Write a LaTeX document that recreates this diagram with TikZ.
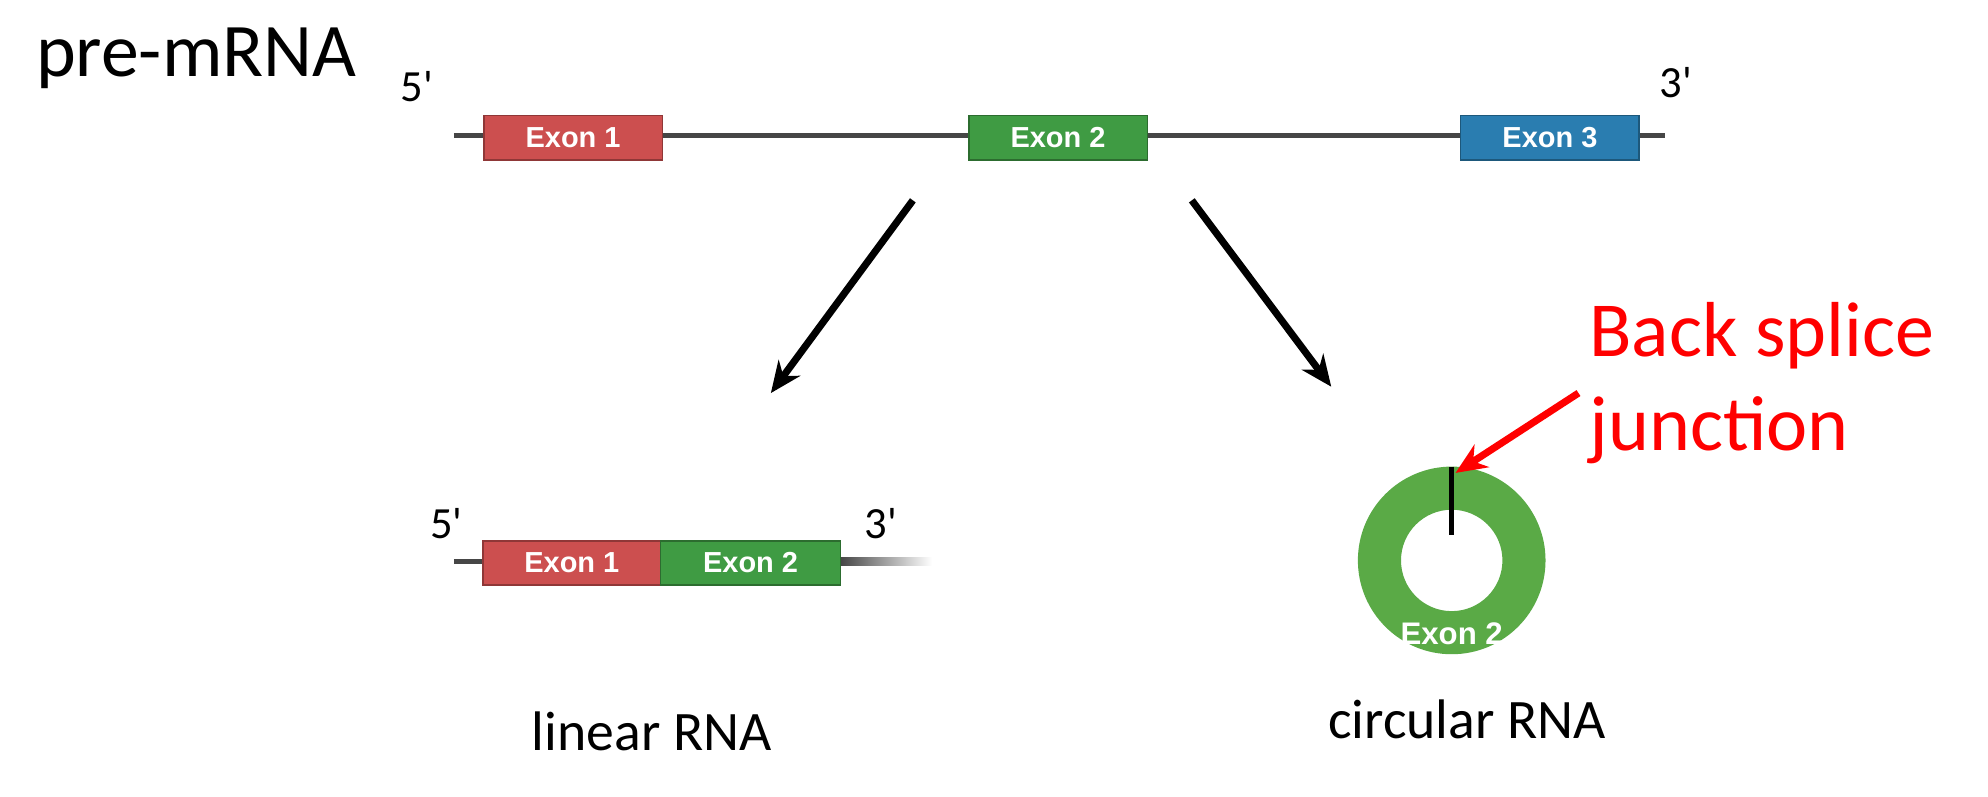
\documentclass[tikz,border=0pt]{standalone}
\usepackage{fontspec}
\setmainfont{Carlito}
\newfontfamily\exonfont{Liberation Sans}
\usepackage{xcolor}
\usepackage{tikz}
\usetikzlibrary{arrows.meta,positioning,calc}
\definecolor{exonred}{RGB}{204,79,79}
\definecolor{exongreen}{RGB}{63,155,67}
\definecolor{exonblue}{RGB}{42,125,176}
\definecolor{ringgreen}{RGB}{90,170,70}
\definecolor{strand}{RGB}{70,70,70}

\tikzset{
    exon/.style={draw=#1!70!black, fill=#1, minimum width=1.41cm, minimum height=0.35cm,
        inner sep=0pt, text=white, font=\exonfont\bfseries\fontsize{6.5}{7}\selectfont},
    prime/.style={font=\fontsize{10}{11}\selectfont},
    rna/.style={strand, line width=1.2pt},
    split/.style={-{Stealth[length=7pt,width=6pt]}, line width=1.6pt}
}

\begin{document}
\begin{tikzpicture}[x=1cm,y=-1cm]
\useasboundingbox (0,0) rectangle (15.68,6.28);

% pre-mRNA
\node[anchor=west, font=\fontsize{17}{19}\selectfont] (title) at (0.16,0.46) {pre-mRNA};
\node[prime] (p5) at (3.29,0.68) {5\textquotesingle};
\node[prime] (p3) at (13.22,0.65) {3\textquotesingle};
\coordinate (s) at (3.58,1.07);
\coordinate (e) at (13.13,1.07);
\draw[rna] (s) -- (e);
\node[exon=exonred] (ex1) at (4.52,1.085) {Exon 1};
\node[exon=exongreen] (ex2) at (8.345,1.085) {Exon 2};
\node[exon=exonblue] (ex3) at (12.225,1.085) {Exon 3};

% Splitting arrows
\coordinate (la) at (7.20,1.58);
\coordinate (lb) at (6.08,3.10);
\coordinate (ra) at (9.40,1.58);
\coordinate (rb) at (10.50,3.05);
\draw[split] (la) -- (lb);
\draw[split] (ra) -- (rb);

% Linear RNA
\coordinate (ls) at (3.58,4.43);
\coordinate (lm) at (6.63,4.43);
\coordinate (le) at (7.35,4.43);
\draw[rna] (ls) -- (lm);
\shade[left color=strand, right color=white] (6.63,4.40) rectangle (7.35,4.46);
\node[exon=exonred, minimum width=1.40cm] (lx1) at (4.51,4.44) {Exon 1};
\node[exon=exongreen, minimum width=1.42cm] (lx2) at (5.92,4.44) {Exon 2};
\node[prime] (l5) at (3.52,4.13) {5\textquotesingle};
\node[prime] (l3) at (6.95,4.13) {3\textquotesingle};
\node[font=\fontsize{12.5}{14}\selectfont] (lin) at (5.14,5.77) {linear RNA};

% Circular RNA
\coordinate (c) at (11.45,4.42);
\fill[ringgreen, even odd rule] (c) circle (0.74) (c) circle (0.40);
\draw[black, line width=1pt] (11.45,3.68) -- (11.45,4.22);
\node[text=white, font=\exonfont\bfseries\fontsize{7}{8}\selectfont] (cx) at (11.45,5.00) {Exon 2};
\node[font=\fontsize{12.5}{14}\selectfont] (circ) at (11.57,5.67) {circular RNA};

% Back splice junction
\node[anchor=north west, align=left, text=red, font=\fontsize{17.5}{21}\selectfont, inner sep=0pt] (bsj) at (12.53,2.38) {Back splice\\junction};
\coordinate (bj) at (11.48,3.73);
\draw[red, line width=1.6pt, -{Stealth[length=7pt,width=6pt]}] (12.45,3.10) -- (bj);
\end{tikzpicture}
\end{document}
